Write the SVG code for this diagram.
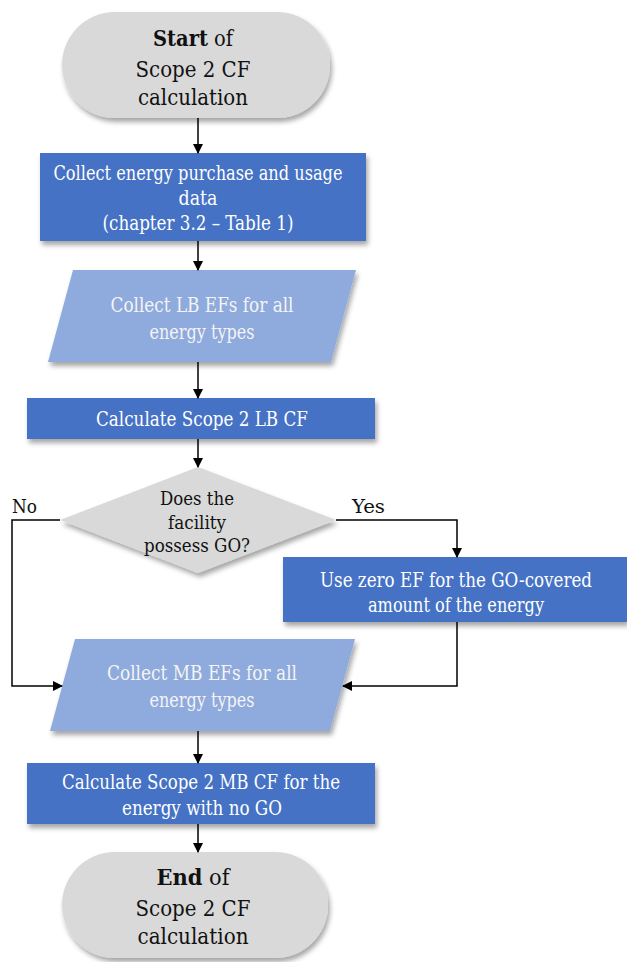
<svg xmlns="http://www.w3.org/2000/svg" width="627" height="962" viewBox="0 0 627 962">
<defs>
<filter id="sh" x="-10%" y="-10%" width="125%" height="140%">
<feDropShadow dx="2" dy="4" stdDeviation="2.5" flood-color="#000" flood-opacity="0.35"/>
</filter>
<marker id="ah" markerWidth="10" markerHeight="10" refX="9" refY="5" orient="auto" markerUnits="userSpaceOnUse">
<path d="M0,0 L10,5 L0,10 Z" fill="#000"/>
</marker>
</defs>
<style>
.term{fill:#D9D9D9;filter:url(#sh)}
.proc{fill:#4472C4;filter:url(#sh)}
.io{fill:#8FAADC;filter:url(#sh)}
.dec{fill:#D9D9D9;filter:url(#sh)}
text{font-family:'DejaVu Serif Condensed','DejaVu Serif',serif;font-stretch:condensed;text-anchor:middle}
.dk{fill:#111;font-size:22px}
.wt{fill:#fff;font-size:19.5px}
.lt{fill:#F4F4F4;font-size:19.5px}
.dq{fill:#111;font-size:19px}
.lbl{fill:#111;font-size:19px;text-anchor:start}
.c{fill:none;stroke:#000;stroke-width:1.5;marker-end:url(#ah)}
</style>
<g id="start">
<rect class="term" x="62" y="12" width="268" height="106" rx="53" ry="53"/>
<text class="dk" x="193" y="46" textLength="80" lengthAdjust="spacingAndGlyphs"><tspan font-weight="bold">Start</tspan> of</text>
<text class="dk" x="193" y="77" textLength="115" lengthAdjust="spacingAndGlyphs">Scope 2 CF</text>
<text class="dk" x="193" y="105" textLength="110" lengthAdjust="spacingAndGlyphs">calculation</text>
</g>
<g id="collect-data">
<rect class="proc" x="40" y="153" width="326" height="88"/>
<text class="wt" x="198" y="180" textLength="289" lengthAdjust="spacingAndGlyphs">Collect energy purchase and usage</text>
<text class="wt" x="198" y="205" textLength="39" lengthAdjust="spacingAndGlyphs">data</text>
<text class="wt" x="198" y="230" textLength="191" lengthAdjust="spacingAndGlyphs">(chapter 3.2 – Table 1)</text>
</g>
<g id="collect-lb">
<polygon class="io" points="73,270 356,270 331,362 48,362"/>
<text class="lt" x="202" y="312" textLength="183" lengthAdjust="spacingAndGlyphs">Collect LB EFs for all</text>
<text class="lt" x="202" y="339" textLength="105" lengthAdjust="spacingAndGlyphs">energy types</text>
</g>
<g id="calc-lb">
<rect class="proc" x="27" y="398" width="348" height="41"/>
<text class="wt" x="202" y="426" textLength="212" lengthAdjust="spacingAndGlyphs">Calculate Scope 2 LB CF</text>
</g>
<g id="decision">
<polygon class="dec" points="198,467 336,520 198,573 60,520"/>
<text class="dq" x="197" y="505" textLength="74" lengthAdjust="spacingAndGlyphs">Does the</text>
<text class="dq" x="197" y="529" textLength="58" lengthAdjust="spacingAndGlyphs">facility</text>
<text class="dq" x="197" y="552" textLength="106" lengthAdjust="spacingAndGlyphs">possess GO?</text>
</g>
<g id="zero-ef">
<rect class="proc" x="283" y="557" width="344" height="65"/>
<text class="wt" x="456" y="587" textLength="272" lengthAdjust="spacingAndGlyphs">Use zero EF for the GO-covered</text>
<text class="wt" x="456" y="612" textLength="176" lengthAdjust="spacingAndGlyphs">amount of the energy</text>
</g>
<g id="collect-mb">
<polygon class="io" points="75,639 355,639 330,731 50,731"/>
<text class="lt" x="202" y="680" textLength="190" lengthAdjust="spacingAndGlyphs">Collect MB EFs for all</text>
<text class="lt" x="202" y="707" textLength="105" lengthAdjust="spacingAndGlyphs">energy types</text>
</g>
<g id="calc-mb">
<rect class="proc" x="27" y="763" width="348" height="61"/>
<text class="wt" x="201" y="789" textLength="278" lengthAdjust="spacingAndGlyphs">Calculate Scope 2 MB CF for the</text>
<text class="wt" x="202" y="815" textLength="160" lengthAdjust="spacingAndGlyphs">energy with no GO</text>
</g>
<g id="end">
<rect class="term" x="62" y="852" width="266" height="106" rx="53" ry="53"/>
<text class="dk" x="193" y="885" textLength="73" lengthAdjust="spacingAndGlyphs"><tspan font-weight="bold">End</tspan> of</text>
<text class="dk" x="193" y="916" textLength="115" lengthAdjust="spacingAndGlyphs">Scope 2 CF</text>
<text class="dk" x="193" y="944" textLength="111" lengthAdjust="spacingAndGlyphs">calculation</text>
</g>
<g id="connectors">
<path class="c" d="M198,118 V153"/>
<path class="c" d="M198,241 V270"/>
<path class="c" d="M198,362 V398"/>
<path class="c" d="M198,439 V467"/>
<path class="c" d="M60,520 H12 V686 H62"/>
<path class="c" d="M336,520 H457 V557"/>
<path class="c" d="M457,622 V686 H343"/>
<path class="c" d="M198,731 V763"/>
<path class="c" d="M198,824 V852"/>
<text class="lbl" x="12" y="513" textLength="25" lengthAdjust="spacingAndGlyphs">No</text>
<text class="lbl" x="352" y="513" textLength="33" lengthAdjust="spacingAndGlyphs">Yes</text>
</g>
</svg>
